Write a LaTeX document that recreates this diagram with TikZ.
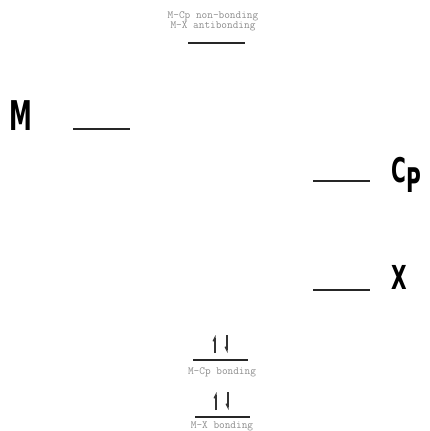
\documentclass[tikz,border=0pt]{standalone}
\usepackage{fontspec}
\setmainfont{Liberation Sans}
\newfontfamily\condfont{DejaVu Sans Condensed}
\usetikzlibrary{arrows.meta, positioning}

\newcommand{\narrowbold}[3]{\scalebox{#3}[1]{\condfont\fontsize{#1}{#1}\selectfont\bfseries #2}}

\tikzset{
    levelbar/.style={fill=black!85, draw=none, inner sep=0pt, minimum height=1.4pt, minimum width=57pt},
    tag/.style={text=black!45, font=\ttfamily\fontsize{11}{12}\selectfont, inner sep=0pt},
    big/.style={inner sep=0pt, anchor=base west},
    spinup/.style={draw=black!80, line width=1.1pt, -{Straight Barb[left, length=4pt, width=4pt]}},
    spindown/.style={draw=black!80, line width=1.1pt, -{Straight Barb[right, length=4pt, width=4pt]}}
}

\begin{document}
\begin{tikzpicture}[x=1pt, y=-1pt]
        \useasboundingbox (0,0) rectangle (430,431);

        % top level, empty
        \node[levelbar] (top) at (216,43) {};
        \node[tag, anchor=base] (xab) at (213,28) {M-X antibonding};
        \node[tag, anchor=base] (cpnb) at (213,18) {M-Cp non-bonding};

        % metal
        \node[levelbar] (mlev) at (101,129) {};
        \node[big] (m) at (9,130) {\narrowbold{41}{M}{0.62}};

        % ligands
        \node[levelbar] (cplev) at (341,181) {};
        \node[big] (cp) at (391,182) {\narrowbold{34}{C\raisebox{-10pt}{P}}{0.66}};

        \node[levelbar] (xlev) at (341,290) {};
        \node[big] (x) at (391,289) {\narrowbold{33}{X}{0.68}};

        % filled levels
        \node[levelbar, minimum width=55pt] (cpbond) at (220,360) {};
        \coordinate (cpA) at (215,353);
        \coordinate (cpB) at (215,335);
        \coordinate (cpC) at (227,335);
        \coordinate (cpD) at (227,353);
        \draw[spinup] (cpA) -- (cpB);
        \draw[spindown] (cpC) -- (cpD);
        \node[tag, anchor=base] (cpb) at (222,374) {M-Cp bonding};

        \node[levelbar, minimum width=55pt] (xbond) at (222,417) {};
        \coordinate (xA) at (216,410);
        \coordinate (xB) at (216,392);
        \coordinate (xC) at (228,392);
        \coordinate (xD) at (228,410);
        \draw[spinup] (xA) -- (xB);
        \draw[spindown] (xC) -- (xD);
        \node[tag, anchor=base] (xb) at (222,428) {M-X bonding};

\end{tikzpicture}
\end{document}
